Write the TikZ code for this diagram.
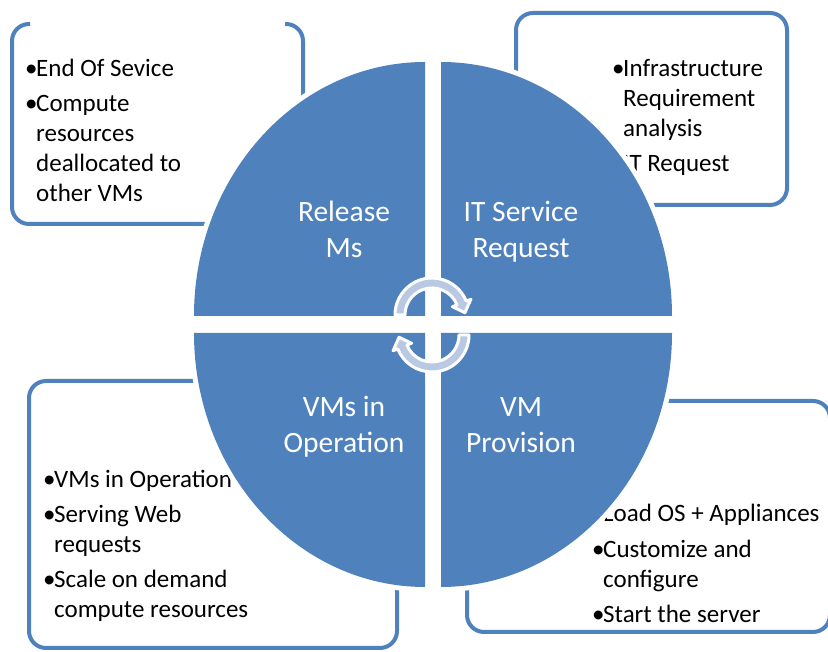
\documentclass[tikz,border=0pt]{standalone}
\usepackage{fontspec}
\setmainfont{Carlito}
\usetikzlibrary{calc}
\definecolor{cyclblue}{RGB}{79,129,189}
\definecolor{cycllight}{RGB}{185,201,228}
\tikzset{quadrant/.style={ % pie pieces with a white halo
           fill=cyclblue,
           preaction={draw=white, line width=10pt}},
         infobox/.style={      % boxes behind the pie pieces
           draw=cyclblue, line width=4pt, rounded corners=17pt},
         boxtext/.style={      % placed at the baseline of the last line
           anchor=base west, align=left, inner sep=0pt,
           font={\fontsize{25}{30}\selectfont}},
         quadtext/.style={
           anchor=base, align=center, inner sep=0pt, text=white,
           font={\fontsize{29.5}{36}\selectfont}},
         cyclearrow/.style={
           fill=cycllight, draw=white, line width=3pt, line join=round}}
\newcommand{\bul}{\makebox[11pt][l]{•}}
\newcommand{\ind}{\hspace*{11pt}}

\begin{document}
\begin{tikzpicture}[x=1pt, y=1pt]
  \useasboundingbox (0,0) rectangle (828,652);

  % boxes
  \draw[infobox] (30,628) -- (12,628) -- (12,428) -- (303,428) -- (303,628) -- (285,628);
  \draw[infobox] (516,447) rectangle (787,639);
  \draw[infobox] (29,4) rectangle (397,271);
  \draw[infobox] (467,20) rectangle (830,251);

  \node [boxtext] (endtext) at (25,450) {
    \bul End Of Sevice\\[5pt]
    \bul Compute\\\ind resources\\\ind deallocated to\\\ind other VMs};
  \node [boxtext] (reqtext) at (612,480) {
    \bul Infrastructure\\\ind Requirement\\\ind analysis\\[5pt]
    \bul IT Request};
  \node [boxtext] (opstext) at (43,34) {
    \bul VMs in Operation\\[5pt]
    \bul Serving Web\\\ind requests\\[5pt]
    \bul Scale on demand\\\ind compute resources};
  \node [boxtext] (provtext) at (592,29) {
    \bul Load OS + Appliances\\[6pt]
    \bul Customize and\\\ind configure\\[5pt]
    \bul Start the server};

  % pie pieces
  \fill[quadrant] (425,336) -- (194,336) arc[start angle=180, end angle=90, x radius=231, y radius=254] -- cycle;
  \fill[quadrant] (441,336) -- (441,590) arc[start angle=90, end angle=0, x radius=231, y radius=254] -- cycle;
  \fill[quadrant] (425,319) -- (425,65) arc[start angle=270, end angle=180, x radius=231, y radius=254] -- cycle;
  \fill[quadrant] (441,319) -- (672,319) arc[start angle=0, end angle=-90, x radius=231, y radius=254] -- cycle;

  \node [quadtext] (rel) at (344,394) {Release\\Ms};
  \node [quadtext] (req) at (521,394) {IT Service\\Request};
  \node [quadtext] (ops) at (344,199) {VMs in\\Operation};
  \node [quadtext] (prov) at (521,199) {VM\\Provision};

  % cycle arrows in the middle
  \coordinate (cw) at (432,337);
  \coordinate (ccw) at (432,317);

  \filldraw[cyclearrow] ($(cw)+(180:37)$) arc[start angle=180, end angle=22, radius=37]
    -- ($(cw)+(22:42)$) -- ($(cw)+(4:33)$) -- ($(cw)+(22:22)$) -- ($(cw)+(22:27)$)
    arc[start angle=22, end angle=180, radius=27] -- cycle;
  \filldraw[cyclearrow] ($(ccw)+(0:37)$) arc[start angle=0, end angle=-158, radius=37]
    -- ($(ccw)+(-158:42)$) -- ($(ccw)+(-176:33)$) -- ($(ccw)+(-158:22)$) -- ($(ccw)+(-158:27)$)
    arc[start angle=-158, end angle=0, radius=27] -- cycle;

\end{tikzpicture}
\end{document}
